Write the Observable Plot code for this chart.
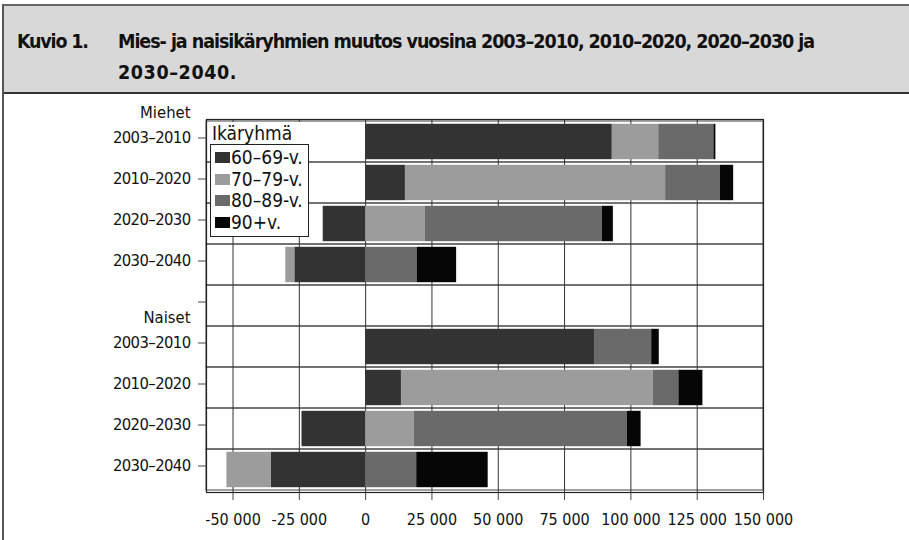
<!DOCTYPE html>
<html>
<head>
<meta charset="utf-8">
<script src="https://cdn.jsdelivr.net/npm/d3@7"></script>
<script src="https://cdn.jsdelivr.net/npm/@observablehq/plot@0.6"></script>
<style>
  html, body { margin: 0; padding: 0; background: #fff; }
  body { width: 909px; height: 540px; position: relative; overflow: hidden;
         font-family: "DejaVu Sans Condensed", "DejaVu Sans", sans-serif; font-stretch: condensed; }
  #titlebox { position: absolute; left: 2px; top: 4px; width: 920px; height: 86px;
              background: #d8d8d8; border-top: 2px solid #666; border-bottom: 2px solid #333;
              border-left: 2px solid #555; box-sizing: content-box; }
  #titlebox div { position: absolute; font-weight: bold; font-size: 19.5px; color: #111; white-space: nowrap; line-height: 24px; }
  #titlebox .num { left: 13px; top: 24px; letter-spacing: -1.2px; }
  #titlebox .l1 { left: 114px; top: 24px; letter-spacing: -1.05px; }
  #titlebox .l2 { left: 114px; top: 55px; letter-spacing: 0.6px; }
  #leftline { position: absolute; left: 2px; top: 92px; width: 2px; height: 460px; background: #555; }
  #chart { position: absolute; left: 0; top: 93px; }
  #legend { position: absolute; left: 210px; top: 122px; background: #fff; font-size: 19px; color: #111; }
  #legend .lt { padding-left: 2px; line-height: 22px; }
  #legend .box { border: 1.3px solid #222; padding: 2px 5px 3px 4px; background: #fff; }
  #legend .item { display: flex; align-items: center; line-height: 21.5px; white-space: nowrap; }
  #legend .sw { width: 15px; height: 11px; margin-right: 1px; }
  svg text { font-stretch: condensed; }
  g[aria-label="y-axis tick label"] text { letter-spacing: -0.6px; }
</style>
</head>
<body>
<div id="titlebox">
  <div class="num">Kuvio 1.</div>
  <div class="l1">Mies- ja naisikäryhmien muutos vuosina 2003–2010, 2010–2020, 2020–2030 ja</div>
  <div class="l2">2030–2040.</div>
</div>
<div id="leftline"></div>
<div id="chart"></div>
<div id="legend"></div>
<script>
// ---- data ----
const groups = ["Miehet", "Naiset"];
const periods = ["2003–2010", "2010–2020", "2020–2030", "2030–2040"];
const ageGroups = ["60–69-v.", "70–79-v.", "80–89-v.", "90+v."];
const legendTitle = "Ikäryhmä";

// Miehet (men), per period
const men60 = [93000, 15000, -16000, -26700];
const men70 = [17500, 98100, 22400, -3400];
const men80 = [20800, 20650, 66900, 19400];
const men90 = [750, 5000, 4100, 14900];
// Naiset (women), per period
const women60 = [86300, 13500, -24000, -35650];
const women70 = [0, 95000, 18250, -16650];
const women80 = [21550, 9600, 80450, 19250];
const women90 = [2850, 9050, 5150, 26950];

const xTicks = [-50000, -25000, 0, 25000, 50000, 75000, 100000, 125000, 150000];
const xTickLabels = ["-50 000", "-25 000", "0", "25 000", "50 000", "75 000", "100 000", "125 000", "150 000"];
const xDomain = [-60000, 150000];

const colors = ["#333333", "#9c9c9c", "#6a6a6a", "#060606"];

// ---- build tables ----
const seriesByGroup = {
  "Miehet": [men60, men70, men80, men90],
  "Naiset": [women60, women70, women80, women90]
};
const rowKey = (g, p) => g + "|" + p;
const rows = [
  ...periods.map(p => rowKey("Miehet", p)),
  "gap",
  ...periods.map(p => rowKey("Naiset", p))
];
const rowLabel = k => k === "gap" ? "" : k.split("|")[1];

const data = [];
for (const g of groups) {
  periods.forEach((p, i) => {
    ageGroups.forEach((a, j) => {
      data.push({row: rowKey(g, p), age: a, value: seriesByGroup[g][j][i]});
    });
  });
}
const groupLabels = groups.map(g => ({row: rowKey(g, periods[0]), label: g}));

const font = '"DejaVu Sans Condensed", "DejaVu Sans", sans-serif';

const chart = Plot.plot({
  width: 909,
  height: 447,
  marginTop: 26,
  marginBottom: 48,
  marginLeft: 206,
  marginRight: 146,
  style: {fontFamily: font, fontSize: "16px", color: "#111", background: "transparent"},
  x: {domain: xDomain, axis: null},
  y: {domain: rows, type: "band", padding: 0, axis: null},
  color: {domain: ageGroups, range: colors},
  marks: [
    Plot.cell(rows, {y: d => d, fill: "none", stroke: "#444", strokeWidth: 1}),
    Plot.gridX(xTicks, {stroke: "#333", strokeOpacity: 1, strokeWidth: 1}),
    Plot.barX(data, Plot.stackX({y: "row", x: "value", fill: "age", insetTop: 2.8, insetBottom: 2.8})),
    Plot.frame({stroke: "#222", strokeWidth: 1.2}),
    Plot.axisX({ticks: xTicks, tickFormat: d => xTickLabels[xTicks.indexOf(d)], tickSize: 8, tickPadding: 13,
                fontSize: 16, stroke: "#444", label: null}),
    Plot.axisY({tickSize: 8, tickPadding: 8, tickFormat: rowLabel, dy: -4, fontSize: 16.5, stroke: "#444", label: null}),
    Plot.text(groupLabels, {y: "row", text: "label", frameAnchor: "left", dx: -16, dy: -29,
                            textAnchor: "end", fontSize: 16.5, fill: "#111"})
  ]
});
document.getElementById("chart").appendChild(chart);

// ---- legend ----
const lg = document.getElementById("legend");
const t = document.createElement("div"); t.className = "lt"; t.textContent = legendTitle; lg.appendChild(t);
const box = document.createElement("div"); box.className = "box"; lg.appendChild(box);
ageGroups.forEach((a, i) => {
  const it = document.createElement("div"); it.className = "item";
  const sw = document.createElement("span"); sw.className = "sw"; sw.style.background = colors[i];
  const tx = document.createElement("span"); tx.textContent = a;
  it.appendChild(sw); it.appendChild(tx); box.appendChild(it);
});
</script>
</body>
</html>
